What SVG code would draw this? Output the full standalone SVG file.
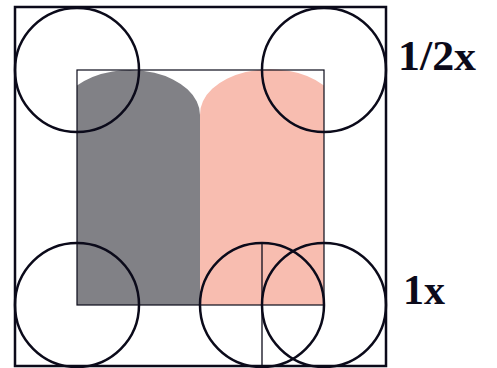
<svg xmlns="http://www.w3.org/2000/svg" width="497" height="368" viewBox="0 0 497 368">
<style>
.c{fill:none;stroke:#0b0a1a;stroke-width:2.5}
.lbl{font-family:"Liberation Serif","DejaVu Serif",serif;font-weight:bold;font-size:42px;fill:#0b0a1a}
</style>
<rect width="497" height="368" fill="#fff"/>
<g id="shapes">
<path id="gray" d="M77,305 V85.6 A70,45 0 0 1 200,115 V305 Z" fill="#818186"/>
<path id="pink" d="M200,305 V115 A70,45 0 0 1 324,85.6 V305 Z" fill="#f8bdb0"/>
<rect id="inner" x="77" y="70" width="247" height="235" fill="none" stroke="#0b0a1a" stroke-width="1.2"/>
<rect id="outer" x="15" y="7" width="371" height="359" fill="none" stroke="#0b0a1a" stroke-width="2.5"/>
</g>
<g id="circles">
<circle id="c1" class="c" cx="77" cy="70" r="62"/>
<circle id="c2" class="c" cx="324" cy="70" r="62"/>
<circle id="c3" class="c" cx="77" cy="305" r="62"/>
<circle id="c4" class="c" cx="262" cy="305" r="62"/>
<circle id="c5" class="c" cx="324" cy="305" r="62"/>
</g>
<g id="connectors">
<line x1="262" y1="243" x2="262" y2="366" stroke="#0b0a1a" stroke-width="1.3"/>
</g>
<g id="labels">
<text class="lbl" x="398" y="70" textLength="78" lengthAdjust="spacingAndGlyphs">1/2x</text>
<text class="lbl" x="403" y="304">1x</text>
</g>
</svg>
